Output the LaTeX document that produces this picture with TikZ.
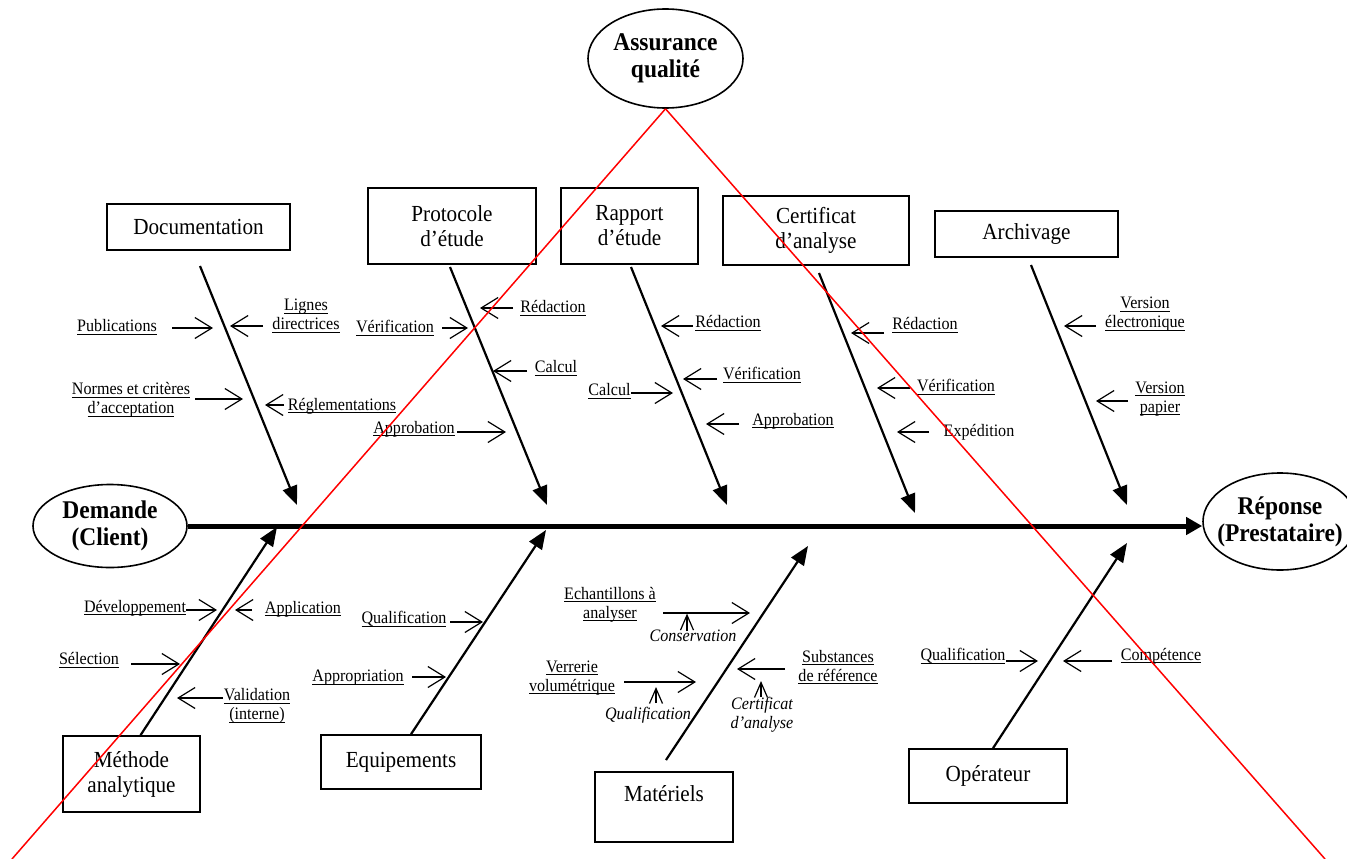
\documentclass[tikz,border=0pt]{standalone}
\usepackage{fontspec}
\setmainfont{Liberation Serif}[FakeStretch=0.92]
\usetikzlibrary{arrows.meta,shapes.geometric}
\newcommand\ulx[1]{\leavevmode\setbox0\hbox{#1}\rlap{\rule[-2.8pt]{\wd0}{0.9pt}}\box0}
\tikzset{
 box/.style={draw,line width=1.6pt,inner sep=0pt,font=\fontsize{23}{25}\selectfont,align=center},
 oval/.style={draw,ellipse,line width=1.6pt,inner sep=0pt,font=\fontsize{25.5}{27}\selectfont\bfseries,align=center},
 lab/.style={inner sep=0pt,font=\fontsize{17.5}{19}\selectfont,align=center},
 ilab/.style={inner sep=0pt,font=\fontsize{17.5}{19}\selectfont\itshape,align=center},
 bone/.style={line width=2.2pt,-{Triangle[length=19pt,width=15pt]}},
 spine/.style={line width=5pt,-{Triangle[length=16pt,width=17pt]}},
 sa/.style={line width=1.2pt,-{Straight Barb[length=17pt,width=21pt,line width=1.2pt]}},
 ua/.style={line width=1.2pt,-{Straight Barb[length=15pt,width=13pt,line width=1.2pt]}},
 qa/.style={red,line width=1.5pt},
}
\begin{document}
\begin{tikzpicture}[x=1pt,y=-1pt]
\useasboundingbox (0,0) rectangle (1347,859);
% ellipses
\node[oval,minimum width=155pt,minimum height=99pt] (aq) at (665.5,58.5) {\makebox[0pt]{Assurance}\\\makebox[0pt]{qualité}};
\node[oval,minimum width=154pt,minimum height=83pt] (dem) at (110,526) {\makebox[0pt]{Demande}\\\makebox[0pt]{(Client)}};
\node[oval,minimum width=154pt,minimum height=97pt] (rep) at (1280,521.5) {\makebox[0pt]{Réponse}\\\makebox[0pt]{(Prestataire)}};
% boxes
\node[box,minimum width=183pt,minimum height=46pt] (doc) at (198.5,227) {Documentation};
\node[box,minimum width=168pt,minimum height=76pt] (pro) at (452,226) {Protocole\\d’étude};
\node[box,minimum width=137pt,minimum height=76pt] (rap) at (629.5,226) {Rapport\\d’étude};
\node[box,minimum width=186pt,minimum height=69pt] (cer) at (816,230.5) {Certificat\\d’analyse};
\node[box,minimum width=183pt,minimum height=46pt] (arc) at (1026.5,234) {Archivage};
\node[box,minimum width=137pt,minimum height=76pt] (met) at (131.5,774) {Méthode\\analytique};
\node[box,minimum width=160pt,minimum height=54pt] (equ) at (401,762) {Equipements};
\node[box,minimum width=138pt,minimum height=70pt] (mat) at (664,807) {\raisebox{-5pt}{Matériels}\\\strut};
\node[box,minimum width=158pt,minimum height=54pt] (ope) at (988,776) {Opérateur};
% spine
\draw[spine] (dem.east) -- (rep.west |- dem.east);
% bones
\coordinate (docS) at (200,266);  \coordinate (docT) at (297,505);
\coordinate (proS) at (450,267);  \coordinate (proT) at (547,505);
\coordinate (rapS) at (631,267);  \coordinate (rapT) at (727,505);
\coordinate (cerS) at (819,273);  \coordinate (cerT) at (915,513);
\coordinate (arcS) at (1031,265); \coordinate (arcT) at (1127,505);
\coordinate (metT) at (277,527);
\coordinate (equT) at (546,530);
\coordinate (matS) at (666,760); \coordinate (matT) at (808,546);
\coordinate (opeT) at (1127,543);
\draw[bone] (docS) -- (docT);
\draw[bone] (proS) -- (proT);
\draw[bone] (rapS) -- (rapT);
\draw[bone] (cerS) -- (cerT);
\draw[bone] (arcS) -- (arcT);
\draw[bone] (met.north) ++(9,0) -- (metT);
\draw[bone] (equ.north) ++(10,0) -- (equT);
\draw[bone] (matS) -- (matT);
\draw[bone] (ope.north) ++(5,0) -- (opeT);
% labels: Documentation
\node[lab] (pub) at (117,327) {\ulx{Publications}};
\node[lab] (lig) at (306,316) {\ulx{Lignes}\\\ulx{directrices}};
\node[lab] (nor) at (131,400) {\ulx{Normes et critères}\\\ulx{d’acceptation}};
\node[lab] (reg) at (342,406) {\ulx{Réglementations}};
\draw[sa] (172,328) -- (213,328);
\draw[sa] (263,326) -- (230,326);
\draw[sa] (195,399) -- (243,399);
\draw[sa] (284,405) -- (265,405);
% Protocole
\node[lab] (pred) at (553,308) {\ulx{Rédaction}};
\node[lab] (pver) at (395,328) {\ulx{Vérification}};
\node[lab] (pcal) at (556,368) {\ulx{Calcul}};
\node[lab] (papp) at (414,429) {\ulx{Approbation}};
\draw[sa] (513,308) -- (480,308);
\draw[sa] (442,328) -- (468,328);
\draw[sa] (527,371) -- (493,371);
\draw[sa] (457,432) -- (506,432);
% Rapport
\node[lab] (rred) at (728,323) {\ulx{Rédaction}};
\node[lab] (rver) at (762,375) {\ulx{Vérification}};
\node[lab] (rcal) at (609.5,391) {\ulx{Calcul}};
\node[lab] (rapp) at (793,421) {\ulx{Approbation}};
\draw[sa] (693,326) -- (661,326);
\draw[sa] (717,379) -- (683,379);
\draw[sa] (631,393) -- (673,393);
\draw[sa] (739,424) -- (706,424);
% Certificat
\node[lab] (cred) at (925,325) {\ulx{Rédaction}};
\node[lab] (cver) at (956,387) {\ulx{Vérification}};
\node[lab] (cexp) at (979,432) {Expédition};
\draw[sa] (884,333) -- (851,333);
\draw[sa] (910,388) -- (877,388);
\draw[sa] (929,432) -- (897,432);
% Archivage
\node[lab] (avel) at (1145,314.5) {\ulx{Version}\\\ulx{électronique}};
\node[lab] (avpa) at (1160,399) {\ulx{Version}\\\ulx{papier}};
\draw[sa] (1096,326) -- (1064,326);
\draw[sa] (1128,401) -- (1096,401);
% Methode
\node[lab] (mdev) at (135,608) {\ulx{Développement}};
\node[lab] (mapp) at (303,609) {\ulx{Application}};
\node[lab] (msel) at (89,660) {\ulx{Sélection}};
\node[lab] (mval) at (257,706) {\ulx{Validation}\\\ulx{(interne)}};
\draw[sa] (186,610) -- (217,610);
\draw[sa] (252,610) -- (235,610);
\draw[sa] (131,664) -- (180,664);
\draw[sa] (223,698) -- (177,698);
% Equipements
\node[lab] (eq1) at (404,619) {\ulx{Qualification}};
\node[lab] (eq2) at (358,678) {\ulx{Appropriation}};
\draw[sa] (450,622) -- (483,622);
\draw[sa] (412,677) -- (446,677);
% Materiels
\node[lab] (mech) at (610,604.5) {\ulx{Echantillons à}\\\ulx{analyser}};
\node[ilab] (mcon) at (693,636) {Conservation};
\node[lab] (mver) at (572,678) {\ulx{Verrerie}\\\ulx{volumétrique}};
\node[ilab] (mqua) at (648,715) {Qualification};
\node[lab] (msub) at (838,667) {\ulx{Substances}\\\ulx{de référence}};
\node[ilab] (mcer) at (762,715) {Certificat\\d’analyse};
\draw[sa] (663,613) -- (750,613);
\draw[sa] (624,682) -- (696,682);
\draw[sa] (785,669) -- (737,669);
\draw[ua] (687,631) -- (687,613.6);
\draw[ua] (656,703) -- (656,687);
\draw[ua] (761,697) -- (761,681);
% Operateur
\node[lab] (oqua) at (963,656) {\ulx{Qualification}};
\node[lab] (ocom) at (1161,656) {\ulx{Compétence}};
\draw[sa] (1006,661) -- (1038,661);
\draw[sa] (1112,661) -- (1063,661);
% quality assurance lines
\coordinate (qaL) at (12,859);
\coordinate (qaR) at (1325,859);
\draw[qa] (aq.south) -- (qaL);
\draw[qa] (aq.south) -- (qaR);
\end{tikzpicture}
\end{document}
